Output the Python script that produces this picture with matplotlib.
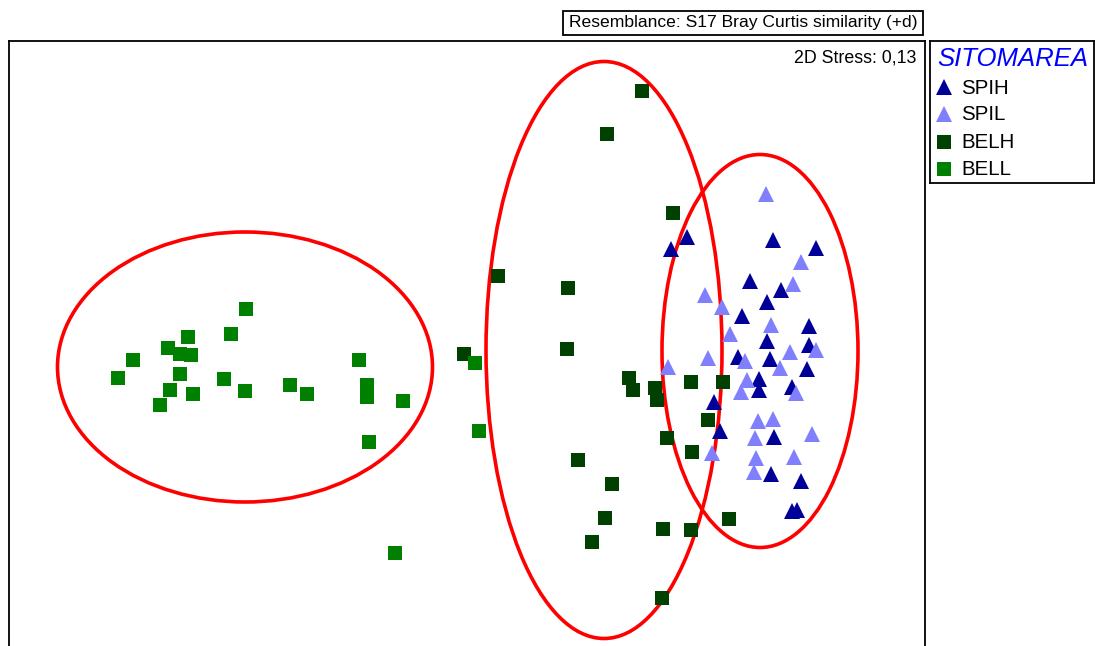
import matplotlib
matplotlib.use("Agg")
import matplotlib.pyplot as plt
from matplotlib.patches import Ellipse, Rectangle

plt.rcParams['font.family'] = ['Liberation Sans', 'DejaVu Sans']

# MDS coordinates (screen-like units, y grows downward)
spih_x = [687, 671, 773, 816, 750, 781, 767, 742, 809, 767, 809, 738,
          770, 807, 759, 759, 792, 714, 720, 774, 771, 801, 792, 797]
spih_y = [237, 249, 240, 248, 281, 290, 302, 316, 326, 341, 345, 357,
          359, 369, 379, 390, 387, 402, 431, 437, 474, 481, 511, 510]

spil_x = [766, 801, 793, 705, 722, 771, 730, 790, 816, 708, 745, 780,
          668, 747, 741, 796, 758, 773, 755, 812, 712, 756, 794, 754]
spil_y = [194, 262, 284, 295, 307, 325, 334, 352, 350, 358, 361, 368,
          367, 380, 392, 393, 421, 419, 438, 434, 453, 458, 457, 472]

belh_x = [642, 607, 673, 498, 568, 464, 567, 629, 633, 655, 657, 691,
          723, 708, 667, 692, 578, 612, 605, 592, 663, 691, 729, 662]
belh_y = [91, 134, 213, 276, 288, 354, 349, 378, 390, 388, 400, 382,
          382, 420, 438, 452, 460, 484, 518, 542, 529, 530, 519, 598]

bell_x = [246, 231, 188, 168, 180, 191, 133, 118, 180, 224, 170, 193,
          160, 245, 290, 307, 359, 367, 367, 403, 369, 475, 479, 395]
bell_y = [309, 334, 337, 348, 354, 355, 360, 378, 374, 379, 390, 394,
          405, 391, 385, 394, 360, 385, 397, 401, 442, 363, 431, 553]

groups = ['SPIH', 'SPIL', 'BELH', 'BELL']
colors = ['#000099', '#8080ff', '#004000', '#008000']
markers = ['^', '^', 's', 's']
msizes = [11.5, 11.5, 10.6, 10.6]
xs = [spih_x, spil_x, belh_x, bell_x]
ys = [spih_y, spil_y, belh_y, bell_y]

# cluster ellipses: centre x, centre y, width, height
ell_cx = [245, 604, 760]
ell_cy = [367, 350, 351]
ell_w = [375, 236, 196]
ell_h = [270, 577, 393]

W, H = 1095, 646
fig = plt.figure(figsize=(W / 100, H / 100), dpi=100)

# main panel runs off the bottom edge of the figure
bottom = -0.1
ax = fig.add_axes([9 / W, bottom, (925 - 9) / W, (H - 41) / H - bottom])
ax.set_xlim(9, 925)
ax.set_ylim(H - bottom * H, 41)
ax.set_xticks([])
ax.set_yticks([])
for sp in ax.spines.values():
    sp.set_linewidth(1.3)

for i in range(3):
    ax.add_patch(Ellipse((ell_cx[i], ell_cy[i]), ell_w[i], ell_h[i],
                         fill=False, edgecolor='#ff0000', linewidth=2.6, zorder=1))

for gx, gy, c, m, s in zip(xs, ys, colors, markers, msizes):
    ax.plot(gx, gy, linestyle='none', marker=m, markersize=s, color=c,
            markeredgewidth=0, zorder=2)

ax.text(916, 58, '2D Stress: 0,13', ha='right', va='center', fontsize=12.8)

# resemblance caption in its own box above the panel
fig.patches.append(Rectangle((563 / W, 1 - 35 / H), 360 / W, 24 / H,
                             transform=fig.transFigure, facecolor='white',
                             edgecolor='black', linewidth=1.3))
fig.text(743 / W, 1 - 23 / H, 'Resemblance: S17 Bray Curtis similarity (+d)',
         ha='center', va='center', fontsize=12.6)

# legend panel
lx0, ly0, lx1, ly1 = 930, 41, 1094, 183
lax = fig.add_axes([lx0 / W, 1 - ly1 / H, (lx1 - lx0) / W, (ly1 - ly0) / H])
lax.set_xlim(lx0, lx1)
lax.set_ylim(ly1, ly0)
lax.set_xticks([])
lax.set_yticks([])
for sp in lax.spines.values():
    sp.set_linewidth(1.3)

lax.text(1013, 59, 'SITOMAREA', ha='center', va='center', fontsize=18.5,
         style='italic', color='#0000ff')
row_y = [87, 114, 142, 169]
for g, c, m, s, ry in zip(groups, colors, markers, msizes, row_y):
    lax.plot([944], [ry], linestyle='none', marker=m, markersize=s, color=c,
             markeredgewidth=0)
    lax.text(961, ry + 1, g, ha='left', va='center', fontsize=14.8)

fig.savefig('out.png', dpi=100)
